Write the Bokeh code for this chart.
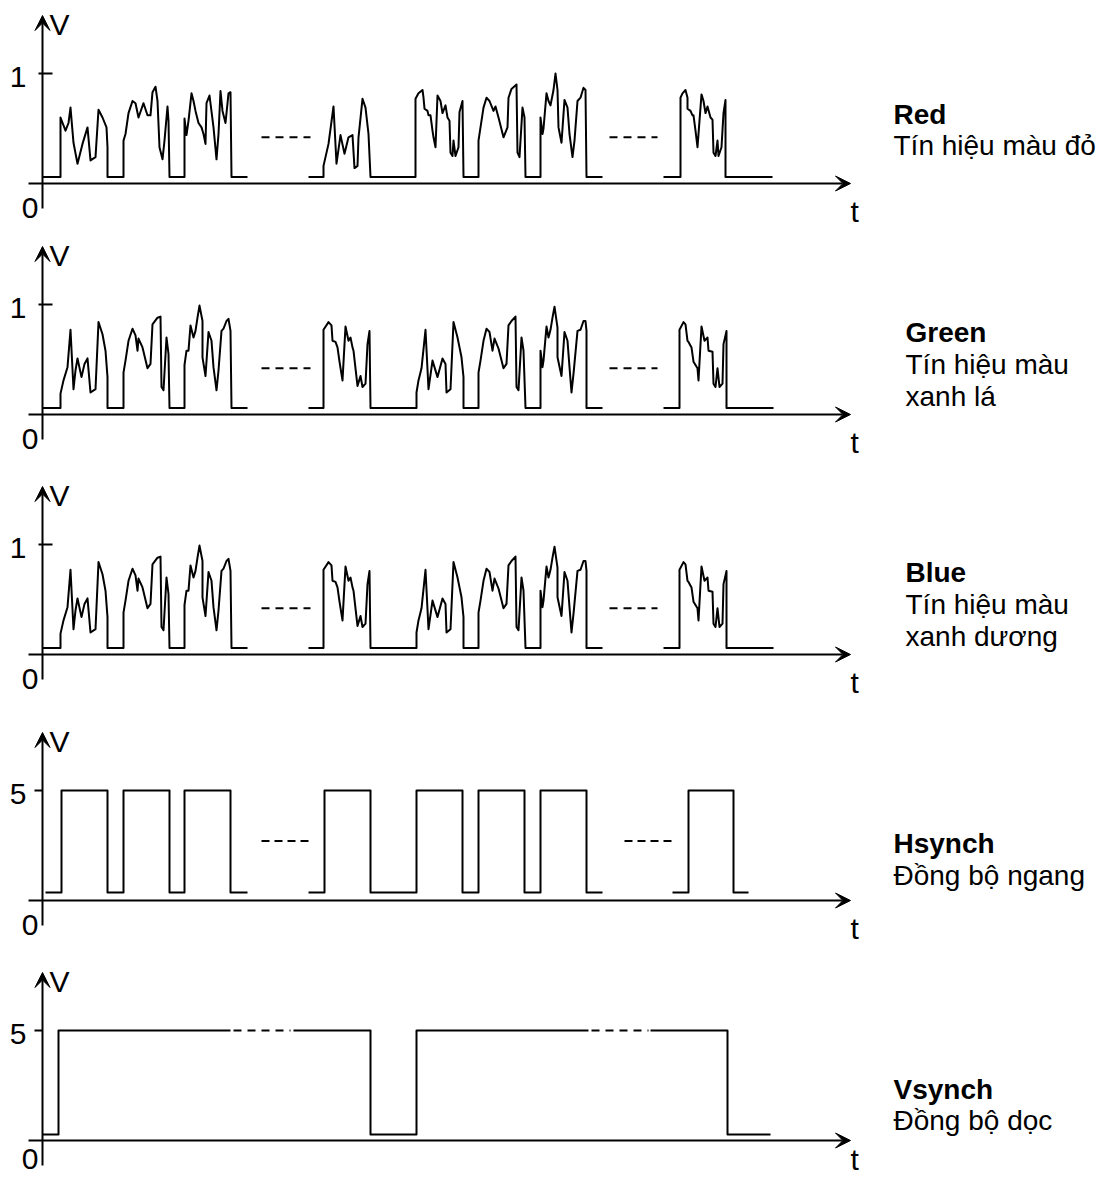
import math
from bokeh.plotting import figure
from bokeh.layouts import column
from bokeh.models import Range1d, Arrow, VeeHead
from bokeh.core.properties import value
from bokeh.embed import file_html
from bokeh.resources import INLINE

nan = float("nan")

# ---------------- data (t in arbitrary time units, V in volts) ----------------
# Red colour signal: three drawn pieces separated by NaN
red_t = [0, 18, 18, 23, 26, 28, 31, 35, 40, 45, 48, 53, 56, 60, 64, 65, 65,
         81, 81, 83, 86, 90, 93, 96, 101, 105, 108, 110, 113, 115, 117, 120, 122, 125, 126, 127,
         142, 142, 144, 146, 149, 151, 153, 156, 159, 161, 163, 164, 167, 171, 174, 176, 178, 180, 183, 186, 188, 189, 205,
         nan,
         266, 281, 281, 283, 286, 291, 294, 298, 302, 306, 310, 312, 315, 316, 320, 323, 326, 328,
         373, 373, 376, 380, 381, 382, 385, 386, 388, 390, 391, 393, 395, 398, 400, 403, 405, 407, 408, 410, 411, 413, 416, 417, 420, 421,
         436, 436, 438, 441, 444, 447, 451, 453, 456, 461, 465, 466, 469, 474, 475, 477, 480, 482, 483,
         498, 498, 500, 501, 504, 506, 508, 511, 513, 515, 516, 519, 522, 525, 527, 530, 532, 535, 538, 541, 543, 544, 560,
         nan,
         621, 638, 638, 640, 643, 645, 645, 648, 650, 651, 653, 655, 659, 661, 663, 665, 668, 670, 671, 673, 675, 676, 679, 681, 683, 683, 730]
red_v = [0.06, 0.06, 0.60, 0.48, 0.55, 0.69, 0.37, 0.18, 0.36, 0.51, 0.21, 0.24, 0.67, 0.60, 0.51, 0.33, 0.06,
         0.06, 0.39, 0.45, 0.64, 0.75, 0.73, 0.60, 0.73, 0.62, 0.62, 0.83, 0.88, 0.75, 0.33, 0.22, 0.39, 0.70, 0.57, 0.06,
         0.06, 0.59, 0.44, 0.57, 0.82, 0.75, 0.66, 0.55, 0.51, 0.45, 0.36, 0.73, 0.80, 0.51, 0.22, 0.45, 0.84, 0.66, 0.55, 0.82, 0.83, 0.06, 0.06,
         nan,
         0.06, 0.06, 0.16, 0.24, 0.36, 0.70, 0.18, 0.44, 0.27, 0.42, 0.44, 0.14, 0.16, 0.42, 0.77, 0.69, 0.45, 0.06,
         0.06, 0.77, 0.82, 0.85, 0.78, 0.68, 0.66, 0.62, 0.62, 0.48, 0.42, 0.33, 0.80, 0.75, 0.64, 0.71, 0.60, 0.57, 0.28, 0.25, 0.39, 0.25, 0.33, 0.65, 0.75, 0.06,
         0.06, 0.39, 0.51, 0.69, 0.78, 0.75, 0.66, 0.70, 0.60, 0.42, 0.51, 0.78, 0.86, 0.90, 0.28, 0.24, 0.69, 0.60, 0.06,
         0.06, 0.60, 0.45, 0.50, 0.82, 0.75, 0.71, 0.85, 1.00, 0.85, 0.51, 0.37, 0.76, 0.69, 0.45, 0.24, 0.39, 0.75, 0.78, 0.87, 0.85, 0.06, 0.06,
         nan,
         0.06, 0.06, 0.78, 0.82, 0.85, 0.78, 0.68, 0.66, 0.62, 0.62, 0.48, 0.33, 0.81, 0.75, 0.64, 0.70, 0.60, 0.58, 0.28, 0.25, 0.39, 0.25, 0.33, 0.64, 0.76, 0.06, 0.06]

# Green colour signal
green_t = [0, 18, 18, 21, 25, 28, 31, 33, 35, 39, 42, 45, 48, 53, 56, 60, 63, 65, 65,
           81, 81, 83, 86, 90, 93, 95, 96, 100, 105, 108, 110, 115, 118, 119, 121, 124, 126, 127,
           142, 142, 144, 146, 148, 151, 153, 155, 157, 160, 160, 163, 166, 169, 171, 174, 176, 179, 181, 184, 186, 188, 189, 205,
           nan,
           266, 281, 281, 286, 289, 290, 293, 295, 297, 300, 303, 306, 308, 310, 311, 313, 315, 318, 320, 323, 325, 327, 328,
           374, 374, 376, 379, 383, 386, 390, 395, 400, 403, 404, 408, 411, 415, 419, 421, 421,
           436, 436, 438, 441, 444, 447, 450, 452, 456, 461, 464, 466, 469, 473, 474, 476, 479, 481, 483,
           498, 498, 500, 501, 504, 506, 508, 510, 512, 515, 515, 519, 522, 525, 527, 529, 531, 535, 538, 541, 543, 544, 544, 560,
           nan,
           621, 637, 637, 641, 643, 645, 646, 649, 651, 655, 656, 659, 662, 665, 666, 670, 671, 673, 675, 677, 680, 681, 684, 684, 731]
green_v = [0.06, 0.06, 0.19, 0.31, 0.43, 0.77, 0.23, 0.40, 0.51, 0.34, 0.46, 0.51, 0.20, 0.23, 0.84, 0.73, 0.58, 0.34, 0.06,
           0.06, 0.38, 0.49, 0.67, 0.78, 0.72, 0.58, 0.69, 0.61, 0.42, 0.46, 0.82, 0.88, 0.89, 0.25, 0.22, 0.70, 0.55, 0.06,
           0.06, 0.45, 0.58, 0.58, 0.81, 0.70, 0.76, 0.88, 0.99, 0.85, 0.52, 0.35, 0.75, 0.67, 0.43, 0.22, 0.40, 0.76, 0.78, 0.85, 0.87, 0.76, 0.06, 0.06,
           nan,
           0.06, 0.06, 0.77, 0.84, 0.81, 0.67, 0.66, 0.61, 0.48, 0.31, 0.80, 0.67, 0.70, 0.61, 0.58, 0.42, 0.26, 0.35, 0.25, 0.28, 0.64, 0.76, 0.06,
           0.06, 0.20, 0.31, 0.42, 0.77, 0.23, 0.49, 0.34, 0.51, 0.46, 0.20, 0.23, 0.84, 0.70, 0.52, 0.34, 0.06,
           0.06, 0.38, 0.49, 0.67, 0.78, 0.75, 0.58, 0.69, 0.60, 0.42, 0.46, 0.81, 0.85, 0.89, 0.25, 0.22, 0.70, 0.58, 0.06,
           0.06, 0.58, 0.43, 0.49, 0.80, 0.70, 0.77, 0.88, 0.98, 0.79, 0.52, 0.35, 0.75, 0.67, 0.43, 0.20, 0.37, 0.76, 0.77, 0.85, 0.85, 0.76, 0.06, 0.06,
           nan,
           0.06, 0.06, 0.77, 0.84, 0.82, 0.67, 0.66, 0.61, 0.48, 0.42, 0.31, 0.80, 0.67, 0.70, 0.58, 0.57, 0.28, 0.25, 0.42, 0.25, 0.28, 0.64, 0.76, 0.06, 0.06]

# Blue colour signal (drawn identical to green in the figure)
blue_t = list(green_t)
blue_v = list(green_v)

# Horizontal sync
hsync_t = [3, 19, 19, 65, 65, 81, 81, 127, 127, 142, 142, 188, 188, 205,
           nan,
           266, 282, 282, 328, 328, 374, 374, 420, 420, 436, 436, 482, 482, 498, 498, 544, 544, 560,
           nan,
           630, 646, 646, 691, 691, 706]
hsync_v = [0.36, 0.36, 5, 5, 0.36, 0.36, 5, 5, 0.36, 0.36, 5, 5, 0.36, 0.36,
           nan,
           0.36, 0.36, 5, 5, 0.36, 0.36, 5, 5, 0.36, 0.36, 5, 5, 0.36, 0.36, 5, 5, 0.36, 0.36,
           nan,
           0.36, 0.36, 5, 5, 0.36, 0.36]

# Vertical sync
vsync_t = [0, 16, 16, 188, nan, 251, 328, 328, 374, 374, 546, nan, 608, 685, 685, 728]
vsync_v = [0.27, 0.27, 5, 5, nan, 5, 5, 0.27, 0.27, 5, 5, nan, 5, 5, 0.27, 0.27]

# "continues" dashes: (t_start, t_end) pairs and their level
rgb_gap_t = [(219, 268), (567, 615)]
rgb_gap_v = 0.42
hsync_gap_t = [(219, 267), (582, 630)]
hsync_gap_v = 2.7
vsync_gap_t = [(191, 248), (549, 606)]
vsync_gap_v = 5

# axis tick values / labels
rgb_tick = [1]
rgb_tick_label = ["1"]
sync_tick = [5]
sync_tick_label = ["5"]

# side captions
titles = ["Red", "Green", "Blue", "Hsynch", "Vsynch"]
captions = [["Tín hiệu màu đỏ"],
            ["Tín hiệu màu", "xanh lá"],
            ["Tín hiệu màu", "xanh dương"],
            ["Đồng bộ ngang"],
            ["Đồng bộ dọc"]]

# ---------------- drawing ----------------
FONT = "Liberation Sans"
W = 1117
X0, X1 = -42, 1075   # t=0 sits at the vertical axis


def make_panel(height, axis_from_top, k, t, v, gaps, gap_v, gap_dash, ticks, tick_labels,
               tick_span, title, caption, cap_x, cap_px, t_dy=28, zero_dy=24):
    p = figure(width=W, height=height,
               x_range=Range1d(X0, X1),
               y_range=Range1d(-(height - axis_from_top) / k, axis_from_top / k),
               x_axis_type=None, y_axis_type=None,
               toolbar_location=None, output_backend="svg",
               min_border=0, outline_line_color=None)
    # axes with arrow heads
    head = dict(size=15, fill_color="black", line_color="black", line_width=1)
    p.add_layout(Arrow(x_start=-14, y_start=0, x_end=808, y_end=0,
                       line_width=2, line_color="black", end=VeeHead(**head)))
    p.add_layout(Arrow(x_start=0, y_start=-25 / k, x_end=0, y_end=168 / k,
                       line_width=2, line_color="black", end=VeeHead(**head)))
    # tick
    p.segment(x0=[tick_span[0]] * len(ticks), y0=ticks, x1=[tick_span[1]] * len(ticks), y1=ticks,
              line_width=2, line_color="black")
    txt = dict(text_font=value(FONT), text_font_size="30px", text_baseline="middle",
               text_color="black")
    p.text(x=[-16] * len(ticks), y=[tv - 3 / k for tv in ticks], text=tick_labels,
           text_align="right", **txt)
    # V, 0 and t labels
    p.text(x=[7], y=[159 / k], text=["V"], text_align="left", **txt)
    p.text(x=[-4], y=[-zero_dy / k], text=["0"], text_align="right", **txt)
    p.text(x=[808], y=[-t_dy / k], text=["t"], text_align="left", **txt)
    # signal
    p.line(t, v, line_width=2, line_color="black", line_join="round")
    # continuation dashes
    p.segment(x0=[g[0] for g in gaps], y0=[gap_v] * len(gaps),
              x1=[g[1] for g in gaps], y1=[gap_v] * len(gaps),
              line_width=2, line_color="black", line_dash=gap_dash)
    # caption
    cap = dict(text_font=value(FONT), text_font_size="28px", text_baseline="middle",
               text_align="left", text_color="black")
    p.text(x=[cap_x], y=[cap_px[0] / k], text=[title], text_font_style="bold", **cap)
    p.text(x=[cap_x] * len(caption), y=[c / k for c in cap_px[1:]], text=caption, **cap)
    return p


p1 = make_panel(232, 183, 110, red_t, red_v, rgb_gap_t, rgb_gap_v, "8 6", rgb_tick, rgb_tick_label,
                (-4, 10), titles[0], captions[0], 851, [69, 38])
p2 = make_panel(239, 182, 110, green_t, green_v, rgb_gap_t, rgb_gap_v, "8 6", rgb_tick, rgb_tick_label,
                (-4, 10), titles[1], captions[1], 863, [82, 50, 18])
p3 = make_panel(241, 183, 110, blue_t, blue_v, rgb_gap_t, rgb_gap_v, "8 6", rgb_tick, rgb_tick_label,
                (-4, 10), titles[2], captions[2], 863, [82, 50, 18])
p4 = make_panel(240, 188, 22, hsync_t, hsync_v, hsync_gap_t, hsync_gap_v, "8 5", sync_tick, sync_tick_label,
                (-8, 0), titles[3], captions[3], 851, [57, 25])
p5 = make_panel(225, 188, 22, vsync_t, vsync_v, vsync_gap_t, vsync_gap_v, "8 6", sync_tick, sync_tick_label,
                (-8, 0), titles[4], captions[4], 851, [51, 20], t_dy=19, zero_dy=18)

layout = column(p1, p2, p3, p4, p5, spacing=0)
open("out.html", "w").write(file_html(layout, INLINE))
